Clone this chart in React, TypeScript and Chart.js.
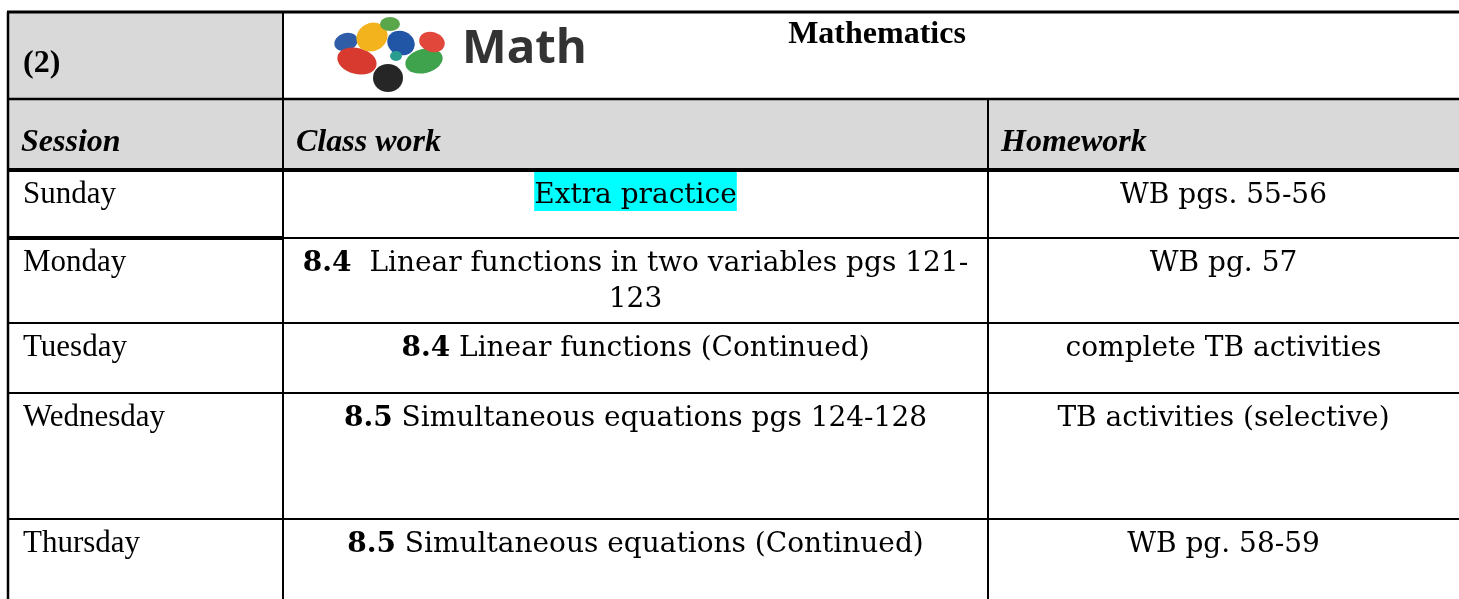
import React, { useEffect, useRef } from "react";
import { Chart, registerables } from "chart.js";

Chart.register(...registerables);

// ---------- data ----------
const titleNumber = "(2)";
const logoWord = "Math";
const subjectTitle = "Mathematics";
const headers = ["Session", "Class work", "Homework"];
const sessions = ["Sunday", "Monday", "Tuesday", "Wednesday", "Thursday"];
const lessonCodes = ["", "8.4", "8.4", "8.5", "8.5"];
const lessonSeparators = ["", "  ", " ", " ", " "];
const lessonLines = [
  ["Extra practice"],
  ["Linear functions in two variables pgs 121-", "123"],
  ["Linear functions (Continued)"],
  ["Simultaneous equations pgs 124-128"],
  ["Simultaneous equations (Continued)"],
];
const homework = [
  "WB pgs. 55-56",
  "WB pg. 57",
  "complete TB activities",
  "TB activities (selective)",
  "WB pg. 58-59",
];
const highlighted = [true, false, false, false, false];

// ---------- layout (scale units) ----------
const W = 1459;
const H = 599;
const COLS = [8, 283, 988, 1459];
const ROWS = [12, 99, 170, 238, 323, 393, 519, 599];

const TIMES = '"Liberation Serif", "Times New Roman", serif';
const BODY = '"DejaVu Serif", serif';

type Petal = [number, number, number, number, number, string];
const PETALS: Petal[] = [
  [346, 42, 12, 9, -0.3, "#2f5da8"],
  [357, 61, 20, 13, 0.25, "#d93a2f"],
  [424, 61, 19, 12, -0.25, "#3fa34d"],
  [388, 78, 15, 14, 0, "#262626"],
  [372, 37, 16, 14, -0.5, "#f2b31d"],
  [401, 43, 14, 12, 0.4, "#2056a5"],
  [432, 42, 13, 10, 0.3, "#e2473b"],
  [390, 24, 10, 7, 0, "#5aa64a"],
  [396, 56, 6, 5, 0, "#2a9d8f"],
];

const tablePlugin = {
  id: "tablePlugin",
  afterDraw(chart: any) {
    const ctx: CanvasRenderingContext2D = chart.ctx;
    const xs = chart.scales.x;
    const ys = chart.scales.y;
    const X = (v: number) => xs.getPixelForValue(v);
    const Y = (v: number) => ys.getPixelForValue(v);
    const S = (v: number) => Math.abs(X(v) - X(0));

    ctx.save();
    // backgrounds
    ctx.fillStyle = "#ffffff";
    ctx.fillRect(X(0), Y(0), X(W) - X(0), Y(H) - Y(0));
    ctx.fillStyle = "#d9d9d9";
    ctx.fillRect(X(COLS[0]), Y(ROWS[0]), X(COLS[1]) - X(COLS[0]), Y(ROWS[1]) - Y(ROWS[0]));
    ctx.fillRect(X(COLS[0]), Y(ROWS[1]), X(COLS[3]) - X(COLS[0]), Y(ROWS[2]) - Y(ROWS[1]));

    // logo
    PETALS.forEach(([cx, cy, rx, ry, rot, color]) => {
      ctx.beginPath();
      ctx.ellipse(X(cx), Y(cy), S(rx), S(ry), rot, 0, Math.PI * 2);
      ctx.fillStyle = color;
      ctx.fill();
    });
    ctx.fillStyle = "#333333";
    ctx.textBaseline = "alphabetic";
    ctx.textAlign = "left";
    ctx.font = 'bold 40px "Open Sans", sans-serif';
    const lw = ctx.measureText(logoWord).width;
    const logoSize = (40 * S(125)) / lw;
    ctx.font = `bold ${logoSize}px "Open Sans", sans-serif`;
    ctx.fillText(logoWord, X(462), Y(63));

    // title texts
    ctx.fillStyle = "#000000";
    ctx.font = `bold 32px ${TIMES}`;
    ctx.fillText(titleNumber, X(COLS[0] + 15), Y(72));
    ctx.textAlign = "center";
    ctx.fillText(subjectTitle, X(877), Y(43));

    // headers
    ctx.textAlign = "left";
    ctx.font = `italic bold 32px ${TIMES}`;
    headers.forEach((h, i) => {
      ctx.fillText(h, X(COLS[i] + 13), Y(ROWS[2] - 19));
    });

    // body rows
    const c1 = (COLS[1] + COLS[2]) / 2;
    const c2 = (COLS[2] + COLS[3]) / 2;
    sessions.forEach((s, i) => {
      const top = ROWS[i + 2];
      const base = top + 33;
      ctx.textAlign = "left";
      ctx.fillStyle = "#000000";
      ctx.font = `31px ${TIMES}`;
      ctx.fillText(s, X(COLS[0] + 15), Y(base));

      // class work
      lessonLines[i].forEach((line, li) => {
        const b = base + li * 36;
        const code = li === 0 ? lessonCodes[i] : "";
        const sep = li === 0 ? lessonSeparators[i] : "";
        ctx.font = `bold 28px ${BODY}`;
        const cw = code ? ctx.measureText(code).width : 0;
        ctx.font = `28px ${BODY}`;
        const rest = sep + line;
        const rw = ctx.measureText(rest).width;
        const total = cw + rw;
        const left = X(c1) - total / 2;
        if (highlighted[i]) {
          ctx.fillStyle = "#00ffff";
          ctx.fillRect(left, Y(b - 31), total, Y(b + 8) - Y(b - 31));
        }
        ctx.fillStyle = "#000000";
        ctx.textAlign = "left";
        if (code) {
          ctx.font = `bold 28px ${BODY}`;
          ctx.fillText(code, left, Y(b));
        }
        ctx.font = `28px ${BODY}`;
        ctx.fillText(rest, left + cw, Y(b));
      });

      // homework
      ctx.textAlign = "center";
      ctx.font = `28px ${BODY}`;
      ctx.fillText(homework[i], X(c2), Y(base));
    });

    // grid lines
    ctx.strokeStyle = "#000000";
    const hline = (y: number, x0: number, x1: number, w: number) => {
      ctx.beginPath();
      ctx.lineWidth = w;
      ctx.moveTo(X(x0), Y(y));
      ctx.lineTo(X(x1), Y(y));
      ctx.stroke();
    };
    const vline = (x: number, y0: number, y1: number, w: number) => {
      ctx.beginPath();
      ctx.lineWidth = w;
      ctx.moveTo(X(x), Y(y0));
      ctx.lineTo(X(x), Y(y1));
      ctx.stroke();
    };
    hline(ROWS[0], COLS[0] - 1, COLS[3], 3);
    hline(ROWS[1], COLS[0], COLS[3], 2.5);
    hline(ROWS[2], COLS[0], COLS[3], 4);
    hline(ROWS[3], COLS[0], COLS[1], 4);
    hline(ROWS[3], COLS[1], COLS[3], 2);
    for (let r = 4; r < ROWS.length - 1; r++) hline(ROWS[r], COLS[0], COLS[3], 2);
    vline(COLS[0], ROWS[0], ROWS[ROWS.length - 1], 2.5);
    vline(COLS[1], ROWS[0], ROWS[ROWS.length - 1], 2);
    vline(COLS[2], ROWS[1], ROWS[ROWS.length - 1], 2);
    ctx.restore();
  },
};

export default function App() {
  const ref = useRef<HTMLCanvasElement | null>(null);
  useEffect(() => {
    if (!ref.current) return;
    const points = sessions.map((_, i) => ({
      x: (COLS[0] + COLS[1]) / 2,
      y: (ROWS[i + 2] + ROWS[i + 3]) / 2,
    }));
    const chart = new Chart(ref.current, {
      type: "scatter",
      data: { datasets: [{ data: points, pointRadius: 0, showLine: false }] },
      options: {
        responsive: false,
        maintainAspectRatio: false,
        animation: false,
        events: [],
        layout: { padding: 0 },
        plugins: { legend: { display: false }, tooltip: { enabled: false } },
        scales: {
          x: { type: "linear", min: 0, max: W, display: false },
          y: { type: "linear", min: 0, max: H, reverse: true, display: false },
        },
      },
      plugins: [tablePlugin],
    });
    return () => chart.destroy();
  }, []);
  return (
    <div style={{ position: "fixed", left: 0, top: 0, width: W, height: H, background: "#fff" }}>
      <canvas ref={ref} width={W} height={H} style={{ display: "block", width: W, height: H }} />
    </div>
  );
}
